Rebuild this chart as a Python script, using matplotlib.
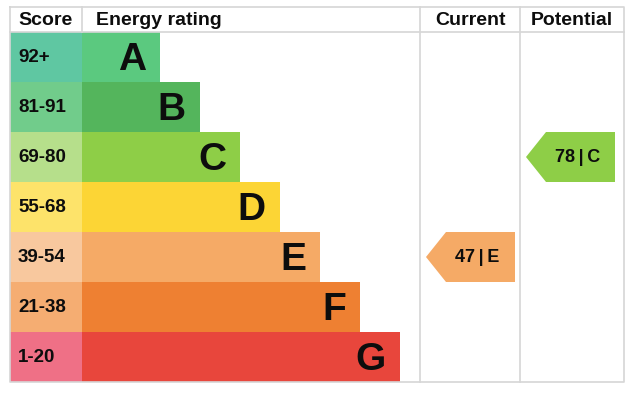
import matplotlib.pyplot as plt
from matplotlib.patches import Rectangle, Polygon

# EPC bands
bands = ['A', 'B', 'C', 'D', 'E', 'F', 'G']
score_ranges = ['92+', '81-91', '69-80', '55-68', '39-54', '21-38', '1-20']
band_lows = [92, 81, 69, 55, 39, 21, 1]
bar_colours = ['#5bc97f', '#54b55c', '#8ece47', '#fcd535', '#f5aa66', '#ee8032', '#e8463c']
score_colours = ['#5fc7a2', '#71cc8b', '#b6df8b', '#fde36a', '#f8c89e', '#f5ad72', '#ef7086']

current_score = 47
potential_score = 78

FONT = ['Liberation Sans', 'DejaVu Sans']
GRID = '#d6d6d6'
INK = '#0d0d0d'


def band_index(score):
    for i, low in enumerate(band_lows):
        if score >= low:
            return i
    return len(bands) - 1


fig = plt.figure(figsize=(6.33, 3.96), dpi=100)
ax = fig.add_axes([0, 0, 1, 1])
ax.set_xlim(0, 633)
ax.set_ylim(396, 0)
ax.axis('off')

left, right = 10, 624
top, head = 7, 32
row_h = 50
score_w = 82
col_cur, col_pot = 420, 520
bottom = head + row_h * len(bands)

# rows
for i, (b, rng) in enumerate(zip(bands, score_ranges)):
    y0 = head + i * row_h
    bar_end = 160 + 40 * i
    ax.add_patch(Rectangle((left, y0), score_w - left, row_h, color=score_colours[i], lw=0))
    ax.add_patch(Rectangle((score_w, y0), bar_end - score_w, row_h, color=bar_colours[i], lw=0))
    ax.text(18, y0 + row_h / 2 + 1, rng, ha='left', va='center', fontsize=13.5,
            fontweight='bold', family=FONT, color=INK)
    ax.text(bar_end - 14, y0 + row_h / 2 + 3, b, ha='right', va='center', fontsize=28,
            fontweight='bold', family=FONT, color=INK)

# grid lines
kw = dict(color=GRID, lw=1.2)
ax.plot([left, right, right, left, left], [top, top, bottom, bottom, top], **kw)
ax.plot([left, right], [head, head], **kw)
ax.plot([score_w, score_w], [top, head], **kw)
for x in (col_cur, col_pot):
    ax.plot([x, x], [top, bottom], **kw)

# headers
hy = (top + head) / 2 + 1
hkw = dict(va='center', fontsize=14, fontweight='bold', family=FONT, color=INK)
ax.text(18, hy, 'Score', ha='left', **hkw)
ax.text(96, hy, 'Energy rating', ha='left', **hkw)
ax.text((col_cur + col_pot) / 2, hy, 'Current', ha='center', **hkw)
ax.text((col_pot + right) / 2, hy, 'Potential', ha='center', **hkw)


def arrow(x0, score):
    i = band_index(score)
    y0 = head + i * row_h
    tip, body, end = x0 + 6, x0 + 26, x0 + 95
    pts = [(tip, y0 + row_h / 2), (body, y0), (end, y0), (end, y0 + row_h), (body, y0 + row_h)]
    ax.add_patch(Polygon(pts, closed=True, color=bar_colours[i], lw=0))
    ax.text((body + end) / 2 - 3, y0 + row_h / 2 + 1, f'{score}\u2009|\u2009{bands[i]}', ha='center',
            va='center', fontsize=13, fontweight='bold', family=FONT, color=INK)


arrow(col_cur, current_score)
arrow(col_pot, potential_score)

fig.savefig('out.png', dpi=100)
